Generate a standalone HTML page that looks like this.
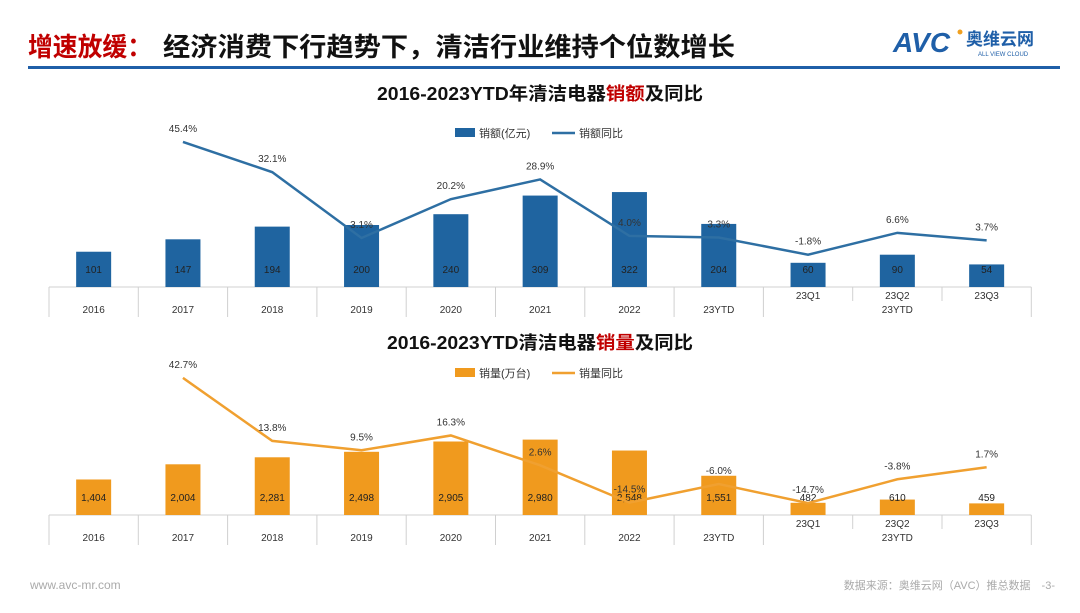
<!DOCTYPE html>
<html><head><meta charset="utf-8">
<style>
body{margin:0;width:1080px;height:608px;background:#fff;overflow:hidden;font-family:"Liberation Sans","Noto Sans CJK SC",sans-serif;}
svg text{font-family:"Liberation Sans","Noto Sans CJK SC",sans-serif;}
</style></head>
<body>
<svg id="s" width="1080" height="608" xmlns="http://www.w3.org/2000/svg">
<text x="28" y="56" font-size="26" font-weight="bold" fill="#c00000" textLength="124" lengthAdjust="spacingAndGlyphs">增速放缓：</text>
<text x="163" y="56" font-size="26" font-weight="bold" fill="#111" textLength="572" lengthAdjust="spacingAndGlyphs">经济消费下行趋势下，清洁行业维持个位数增长</text>
<g>
<text x="893" y="52" font-size="28" font-weight="bold" font-style="italic" fill="#1f5fa8">AVC</text>
<circle cx="960" cy="32" r="2.5" fill="#f0a020"/>
<text x="966" y="45" font-size="17" font-weight="bold" fill="#1f5fa8">奥维云网</text>
<text x="978" y="56" font-size="6" fill="#1f5fa8">ALL VIEW CLOUD</text>
</g>
<rect x="28" y="66" width="1032" height="3" fill="#1f5fa8"/>
<text x="540" y="100" font-size="18" font-weight="bold" text-anchor="middle" fill="#111" textLength="326" lengthAdjust="spacingAndGlyphs">2016-2023YTD年清洁电器<tspan fill="#c00000">销额</tspan>及同比</text>
<text x="540" y="349" font-size="18" font-weight="bold" text-anchor="middle" fill="#111" textLength="306" lengthAdjust="spacingAndGlyphs">2016-2023YTD清洁电器<tspan fill="#c00000">销量</tspan>及同比</text>
<text x="30" y="589" font-size="12" fill="#aaa" font-family="Liberation Serif,serif">www.avc-mr.com</text>
<text x="1055" y="589" font-size="11" fill="#aaa" text-anchor="end">数据来源：奥维云网（AVC）推总数据　-3-</text>
<g id="top"></g><g id="bot"></g>
</svg>
<script>
const categories=["2016","2017","2018","2019","2020","2021","2022","23YTD","23Q1","23Q2","23Q3"];
const salesValues=[101,147,194,200,240,309,322,204,60,90,54];
const salesYoy=[null,45.4,32.1,3.1,20.2,28.9,4.0,3.3,-1.8,6.6,3.7];
const salesLabels=["101","147","194","200","240","309","322","204","60","90","54"];
const volValues=[1404,2004,2281,2498,2905,2980,2548,1551,482,610,459];
const volYoy=[null,42.7,13.8,9.5,16.3,2.6,-14.5,-6.0,-14.7,-3.8,1.7];
const volLabels=["1,404","2,004","2,281","2,498","2,905","2,980","2,548","1,551","482","610","459"];
const NS="http://www.w3.org/2000/svg";
function mk(p,t,a,txt){const e=document.createElementNS(NS,t);for(const k in a)e.setAttribute(k,a[k]);if(txt!=null)e.textContent=txt;p.appendChild(e);return e;}
const x0=49,step=89.3;
function xc(i){return x0+step*(i+0.5);}
function draw(g,cfg){
  const base=cfg.base;
  let r=mk(g,'rect',{x:455,y:cfg.legY-5,width:20,height:9,fill:cfg.bar});
  
  mk(g,'text',{x:479,y:cfg.legY+4,'font-size':11,fill:'#333'},cfg.barName);
  let l=mk(g,'line',{x1:552,x2:575,y1:cfg.legY,y2:cfg.legY,stroke:cfg.line,'stroke-width':2.5});
  
  mk(g,'text',{x:579,y:cfg.legY+4,'font-size':11,fill:'#333'},cfg.lineName);
  mk(g,'line',{x1:x0,x2:x0+step*11,y1:base,y2:base,stroke:'#d0d0d0'});
  for(let i=0;i<=11;i++){const x=x0+step*i;const short=(i==9||i==10);
    mk(g,'line',{x1:x,x2:x,y1:base,y2:short?base+14:base+30,stroke:'#d0d0d0'});}
  cfg.vals.forEach((v,i)=>{
    const h=cfg.h(v);
    const b=mk(g,'rect',{x:xc(i)-17.5,y:base-h,width:35,height:h,fill:cfg.bar});
    
    
    mk(g,'text',{x:xc(i),y:base-14,'font-size':10,'text-anchor':'middle',fill:'#222'},cfg.labels[i]);
    if(i<8) mk(g,'text',{x:xc(i),y:base+26,'font-size':10,'text-anchor':'middle',fill:'#333'},categories[i]);
    else mk(g,'text',{x:xc(i),y:base+12,'font-size':10,'text-anchor':'middle',fill:'#333'},categories[i]);
  });
  mk(g,'text',{x:xc(9),y:base+26,'font-size':10,'text-anchor':'middle',fill:'#333'},'23YTD');
  let pts=[];cfg.yoy.forEach((v,i)=>{if(v!=null)pts.push([xc(i),cfg.y(v,i),v]);});
  const pl=mk(g,'polyline',{points:pts.map(p=>p[0]+','+p[1]).join(' '),fill:'none',stroke:cfg.line,'stroke-width':2.5});
  
  
  pts.forEach(p=>{mk(g,'text',{x:p[0],y:p[1]-10,'font-size':10,'text-anchor':'middle',fill:'#333'},p[2].toFixed(1)+'%');});
}
draw(document.getElementById('top'),{base:287,legY:133,bar:'#1f64a0',line:'#2e6fa3',barName:'销额(亿元)',lineName:'销额同比',
  vals:salesValues,yoy:salesYoy,labels:salesLabels,h:v=>8+v*0.27,y:(v,i)=>i>=8?250-v*2.6:245-v*2.27});
draw(document.getElementById('bot'),{base:515,legY:373,bar:'#f09a1e',line:'#f0a030',barName:'销量(万台)',lineName:'销量同比',
  vals:volValues,yoy:volYoy,labels:volLabels,h:v=>v*0.0253,y:v=>471-v*2.18});
</script>
</body></html>
